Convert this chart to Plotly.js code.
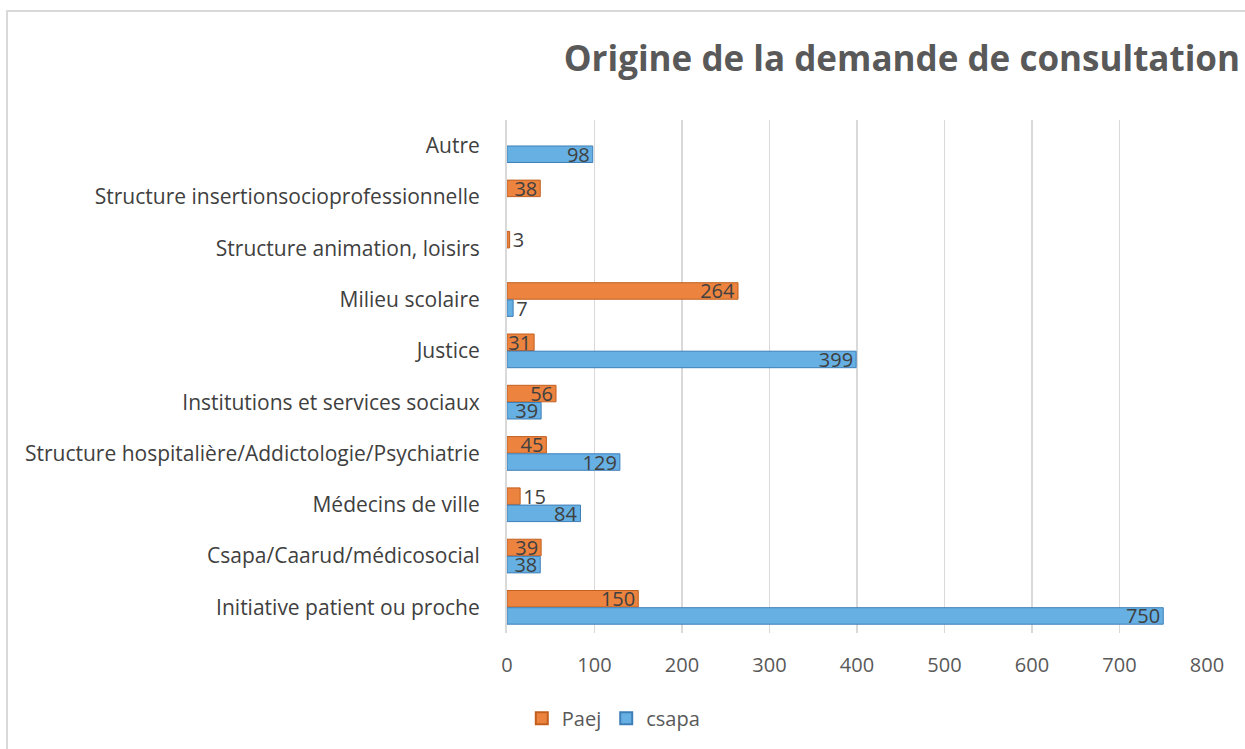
<!DOCTYPE html>
<html>
<head>
<meta charset="utf-8">
<script src="https://cdn.plot.ly/plotly-3.0.1.min.js"></script>
<style>
  html, body { margin: 0; padding: 0; background: #ffffff; }
  #wrap { position: relative; width: 1245px; height: 749px; overflow: hidden; }
  #frame { position: absolute; left: 6px; top: 10px; width: 1245px; height: 760px;
           border-top: 2px solid #d9d9d9; border-left: 2px solid #d9d9d9; }
  #chart { position: absolute; left: 0; top: 0; width: 1245px; height: 749px; }
</style>
</head>
<body>
<div id="wrap">
  <div id="frame"></div>
  <div id="chart"></div>
</div>
<script>
// Categories, top to bottom as in the reference
const categories = [
  "Autre",
  "Structure insertionsocioprofessionnelle",
  "Structure animation, loisirs",
  "Milieu scolaire",
  "Justice",
  "Institutions et services sociaux",
  "Structure hospitalière/Addictologie/Psychiatrie",
  "Médecins de ville",
  "Csapa/Caarud/médicosocial",
  "Initiative patient ou proche"
];
const paej  = [null, 38, 3, 264, 31, 56, 45, 15, 39, 150];
const csapa = [98, null, null, 7, 399, 39, 129, 84, 38, 750];
const xTicks = [0, 100, 200, 300, 400, 500, 600, 700, 800];

const labelColor = "#404040";
const font = "'Open Sans', 'Liberation Sans', sans-serif";

function positions(vals) {
  return vals.map(v => (v !== null && v < 25) ? "outside" : "inside");
}
function texts(vals) {
  return vals.map(v => v === null ? "" : String(v));
}

function makeTrace(name, vals, fill, edge) {
  return {
    type: "bar", orientation: "h", name: name,
    y: categories, x: vals,
    text: texts(vals), textposition: positions(vals),
    insidetextanchor: "end", constraintext: "none", textangle: 0,
    cliponaxis: false,
    textfont: { family: font, size: 20, color: labelColor },
    insidetextfont: { family: font, size: 20, color: labelColor },
    outsidetextfont: { family: font, size: 20, color: labelColor },
    marker: { color: fill, line: { color: edge, width: 1 } },
    hoverinfo: "x+name"
  };
}

const tracePaej = makeTrace("Paej", paej, "#ec8440", "#c25f1f");
const traceCsapa = makeTrace("csapa", csapa, "#66b0e3", "#3e7fb8");

const layout = {
  width: 1245, height: 749,
  paper_bgcolor: "rgba(0,0,0,0)", plot_bgcolor: "rgba(0,0,0,0)",
  margin: { l: 507, r: 38, t: 120, b: 116, pad: 0 },
  barmode: "group", bargap: 0.33, bargroupgap: 0.04,
  showlegend: true,
  title: {
    text: "<b>Origine de la demande de consultation</b>",
    font: { family: font, size: 35, color: "#595959" },
    xref: "container", x: 0.996, xanchor: "right",
    yref: "container", y: 0.922, yanchor: "middle"
  },
  xaxis: {
    range: [0, 800], tickvals: xTicks, ticktext: xTicks.map(String),
    showgrid: true, gridcolor: "#d9d9d9", gridwidth: 1.5,
    zeroline: false, showline: false,
    ticks: "outside", ticklen: 14, tickcolor: "rgba(0,0,0,0)",
    tickfont: { family: font, size: 20, color: "#595959" },
    fixedrange: true
  },
  yaxis: {
    type: "category", autorange: "reversed",
    showgrid: false, zeroline: false,
    showline: true, linecolor: "#d9d9d9", linewidth: 2,
    ticks: "outside", ticklen: 21, tickcolor: "rgba(0,0,0,0)",
    tickfont: { family: font, size: 21, color: "#404040" },
    fixedrange: true
  },
  legend: {
    orientation: "h",
    xref: "container", x: 0.493, xanchor: "center",
    yref: "container", y: 0.041, yanchor: "middle",
    font: { family: font, size: 20, color: "#595959" },
    itemwidth: 30, itemsizing: "constant"
  }
};

Plotly.newPlot("chart", [tracePaej, traceCsapa], layout, { displayModeBar: false, staticPlot: true });
</script>
</body>
</html>
